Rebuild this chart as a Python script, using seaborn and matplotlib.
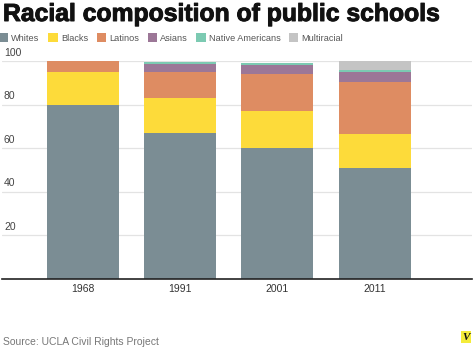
import matplotlib
matplotlib.use("Agg")
import matplotlib.pyplot as plt
import matplotlib.patheffects as pe
from matplotlib.patches import Patch
import seaborn as sns
import pandas as pd
import numpy as np

# Share of public school enrollment by race (percent)
years = ["1968", "1991", "2001", "2011"]
groups = ["Whites", "Blacks", "Latinos", "Asians", "Native Americans", "Multiracial"]
whites = [80, 67, 60, 51]
blacks = [15, 16, 17, 15.5]
latinos = [5, 12, 17, 24]
asians = [0, 3.5, 4, 4.5]
native = [0, 1, 1, 1]
multiracial = [0, 0, 0, 4]
colors = ["#7b8d94", "#fddb3a", "#de8c62", "#9c7797", "#7ccab2", "#c4c4c4"]
yticks = [20, 40, 60, 80, 100]

series = [whites, blacks, latinos, asians, native, multiracial]
df = pd.DataFrame({g: v for g, v in zip(groups, series)}, index=years)
cum = df.cumsum(axis=1)

sns.set_style("white")
plt.rcParams["font.family"] = ["Liberation Sans", "DejaVu Sans"]

fig = plt.figure(figsize=(4.74, 3.49), dpi=100)
W, H = 474, 349
ax = fig.add_axes([2 / W, 70 / H, 470 / W, 218 / H])

# stacked bars: draw cumulative totals back to front
for g, c in reversed(list(zip(groups, colors))):
    sns.barplot(x=years, y=cum[g].values, color=c, width=0.74,
                linewidth=0, saturation=1, ax=ax, zorder=2)

ax.set_ylim(0, 100)
ax.set_xlim(-0.83, 4.0)
ax.set_yticks(yticks)
ax.set_yticklabels([])
ax.tick_params(axis="y", length=0)
ax.tick_params(axis="x", length=0, pad=3.5, labelsize=7.5, labelcolor="#333333")
ax.grid(axis="y", color="#e3e3e3", linewidth=0.9, zorder=0)
ax.set_axisbelow(True)
for s in ["top", "right", "left"]:
    ax.spines[s].set_visible(False)
ax.spines["bottom"].set_color("#222222")
ax.spines["bottom"].set_linewidth(1.2)
ax.spines["bottom"].set_zorder(5)
ax.set_xlabel("")
ax.set_ylabel("")

# y labels sit on the left, just above their gridlines
for t in yticks:
    ax.text(-0.81, t + 1.6, str(t), ha="left", va="bottom",
            fontsize=7.5, color="#444444", zorder=6)

# title
fig.text(3 / W, 1 - 2 / H, "Racial composition of public schools",
         ha="left", va="top", fontsize=17.8, fontweight="bold", color="#111111",
         path_effects=[pe.withStroke(linewidth=0.7, foreground="#111111")])

# legend
handles = [Patch(facecolor=c, edgecolor="none", label=g) for g, c in zip(groups, colors)]
fig.legend(handles=handles, loc="upper left", bbox_to_anchor=(-0.002, 1 - 33.5 / H),
           ncol=6, frameon=False, fontsize=6.6, handlelength=1.0, handleheight=1.0,
           handletextpad=0.35, columnspacing=0.95, labelcolor="#555555",
           borderaxespad=0, borderpad=0)

# source line
fig.text(3 / W, 1 - 342 / H, "Source: UCLA Civil Rights Project",
         ha="left", va="center", fontsize=7.5, color="#777777")

# logo mark
fig.text(466 / W, 1 - 337 / H, "V", ha="center", va="center", fontsize=8,
         fontweight="bold", fontstyle="italic", family="Liberation Serif",
         color="#111111",
         bbox=dict(boxstyle="square,pad=0.1", facecolor="#f4ec3a", edgecolor="none"))

fig.savefig("out.png", dpi=100)
